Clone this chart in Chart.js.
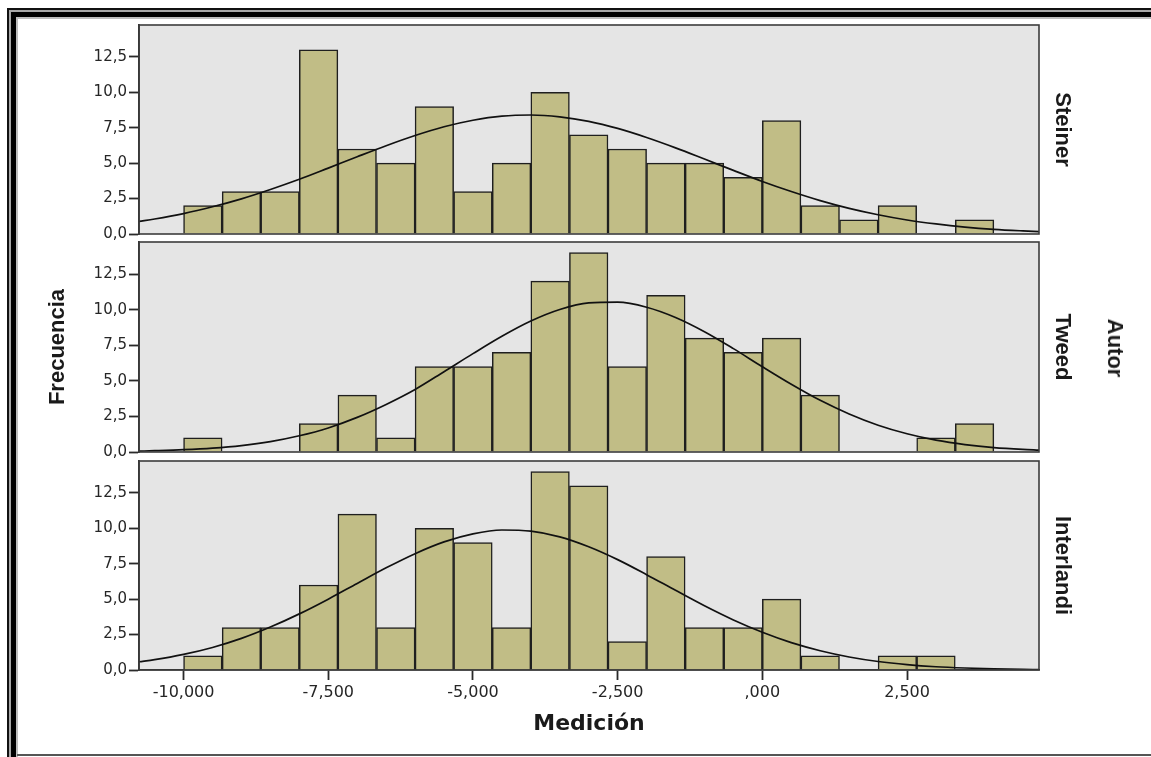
<!DOCTYPE html>
<html lang="es">
<head>
<meta charset="utf-8">
<title>Medición por autor</title>
<script src="https://cdn.jsdelivr.net/npm/chart.js@4.4.1/dist/chart.umd.min.js"></script>
<style>
  html, body { margin: 0; padding: 0; background: #fff; }
  #lienzo { position: relative; width: 1151px; height: 757px; overflow: hidden; background: #fff; }
  .marco { position: absolute; left: 0; top: 0; width: 100%; height: 100%; box-sizing: border-box; border-style: solid; border-right-width: 0; border-bottom-width: 0; }
  #m1 { left: 7px; top: 8px; width: 1200px; height: 800px; border-width: 2px; border-color: #111; }
  #m2 { border-width: 2px; border-color: #a8a8a8; }
  #m3 { border-width: 5px; border-color: #000; }
  #m4 { border-width: 2px; border-color: #bdbdbd; }
  #base { position: absolute; left: 17px; top: 754px; width: 1134px; height: 2px; background: #555; }
  canvas { position: absolute; left: 0; }
  #autor {
    position: absolute; left: 1115px; top: 348px;
    transform: translate(-50%, -50%) rotate(90deg);
    font: bold 22px "Liberation Sans", Arial, sans-serif; color: #1a1a1a; white-space: nowrap;
  }
</style>
</head>
<body>
<div id="lienzo">
  <div class="marco" id="m1"><div class="marco" id="m2"><div class="marco" id="m3"><div class="marco" id="m4"></div></div></div></div>
  <div id="base"></div>
  <canvas id="panel-steiner" width="1151" height="233" style="top:13px"></canvas>
  <canvas id="panel-tweed" width="1151" height="234" style="top:230px"></canvas>
  <canvas id="panel-interlandi" width="1151" height="296" style="top:449px"></canvas>
  <div id="autor">Autor</div>
</div>
<script>
// Intervalos del histograma (centro de cada barra, ancho 0,667)
const binCenters = [-9.667, -9.0, -8.333, -7.667, -7.0, -6.333, -5.667, -5.0, -4.333, -3.667, -3.0,
                    -2.333, -1.667, -1.0, -0.333, 0.333, 1.0, 1.667, 2.333, 3.0, 3.667];

// Frecuencias por autor
const steinerCounts    = [2, 3, 3, 13, 6, 5, 9, 3, 5, 10, 7, 6, 5, 5, 4, 8, 2, 1, 2, 0, 1];
const tweedCounts      = [1, 0, 0, 2, 4, 1, 6, 6, 7, 12, 14, 6, 11, 8, 7, 8, 4, 0, 0, 1, 2];
const interlandiCounts = [1, 3, 3, 6, 11, 3, 10, 9, 3, 14, 13, 2, 8, 3, 3, 5, 1, 0, 1, 1, 0];

// Curva normal
const curveX = [-10.77, -10.5, -10, -9.5, -9, -8.5, -8, -7.5, -7, -6.5, -6, -5.5, -5, -4.5, -4, -3.5, -3,
                -2.5, -2, -1.5, -1, -0.5, 0, 0.5, 1, 1.5, 2, 2.5, 3, 3.5, 4, 4.5, 4.78];
const steinerCurve    = [0.89, 1.06, 1.44, 1.92, 2.48, 3.14, 3.86, 4.65, 5.45, 6.23, 6.95, 7.57, 8.03, 8.32, 8.40, 8.27, 7.95,
                         7.45, 6.81, 6.08, 5.29, 4.49, 3.71, 3.00, 2.36, 1.81, 1.36, 0.99, 0.71, 0.49, 0.33, 0.22, 0.17];
const tweedCurve      = [0.06, 0.09, 0.16, 0.27, 0.45, 0.73, 1.14, 1.69, 2.43, 3.34, 4.39, 5.64, 6.91, 8.13, 9.20, 10.01, 10.47,
                         10.52, 10.17, 9.45, 8.45, 7.26, 5.99, 4.76, 3.63, 2.67, 1.88, 1.28, 0.83, 0.52, 0.31, 0.18, 0.13];
const interlandiCurve = [0.58, 0.73, 1.10, 1.59, 2.23, 3.03, 3.96, 5.00, 6.11, 7.21, 8.21, 9.04, 9.61, 9.88, 9.80, 9.40, 8.70,
                         7.79, 6.73, 5.62, 4.53, 3.53, 2.66, 1.93, 1.36, 0.92, 0.60, 0.38, 0.23, 0.14, 0.08, 0.04, 0.03];

// Marcas de los ejes
const xTickValues = [-10, -7.5, -5, -2.5, 0, 2.5];
const xTickLabels = ['-10,000', '-7,500', '-5,000', '-2,500', ',000', '2,500'];
const yTickValues = [0, 2.5, 5, 7.5, 10, 12.5];
const yTickLabels = ['0,0', '2,5', '5,0', '7,5', '10,0', '12,5'];

Chart.defaults.font.family = "'DejaVu Sans', sans-serif";

// Fondo gris y marco de cada panel
const fondoPanel = {
  id: 'fondoPanel',
  beforeDraw(chart) {
    const {ctx, chartArea: a} = chart;
    ctx.save();
    ctx.fillStyle = '#e5e5e5';
    ctx.fillRect(a.left, a.top, a.right - a.left, a.bottom - a.top);
    ctx.restore();
  },
  afterDraw(chart) {
    const {ctx, chartArea: a} = chart;
    ctx.save();
    ctx.strokeStyle = '#3c3c3c';
    ctx.lineWidth = 1.6;
    ctx.strokeRect(a.left, a.top, a.right - a.left, a.bottom - a.top);
    ctx.restore();
  }
};

function crearPanel(id, conteos, curva, autor, inferior, tituloY) {
  let ctx = document.getElementById(id).getContext('2d');
  return new Chart(ctx, {
    type: 'bar',
    data: {
      datasets: [{
        type: 'line',
        data: curveX.map((x, i) => ({x: x, y: curva[i]})),
        borderColor: '#111',
        borderWidth: 1.7,
        pointRadius: 0,
        cubicInterpolationMode: 'monotone',
        order: 0
      }, {
        type: 'bar',
        data: binCenters.map((x, i) => ({x: x, y: conteos[i]})),
        backgroundColor: '#c1bd86',
        borderColor: '#1f1f1f',
        borderWidth: 1.5,
        barPercentage: 1,
        categoryPercentage: 1,
        order: 1
      }]
    },
    options: {
      responsive: false,
      animation: false,
      layout: { padding: { top: 12, bottom: inferior ? 5 : 12, left: 0, right: 75.6 } },
      plugins: {
        legend: { display: false },
        tooltip: { enabled: false },
        title: {
          display: true,
          text: autor,
          position: 'right',
          fullSize: false,
          color: '#1a1a1a',
          font: { family: "'Liberation Sans', Arial, sans-serif", size: 22, weight: 'bold' },
          padding: { top: 0, bottom: 10 }
        }
      },
      scales: {
        x: {
          type: 'linear',
          min: -10.77,
          max: 4.78,
          offset: false,
          display: inferior,
          afterBuildTicks: s => { s.ticks = xTickValues.map(v => ({value: v})); },
          afterFit: s => { if (inferior) s.height = 70; },
          border: { color: '#2a2a2a', width: 1.6 },
          grid: { drawOnChartArea: false, offset: false, tickLength: 10, tickWidth: 1.8, tickColor: '#2a2a2a' },
          ticks: {
            autoSkip: false, maxRotation: 0, padding: 3, color: '#262626', font: { size: 16 },
            callback: (v, i) => xTickLabels[i]
          },
          title: {
            display: true, text: 'Medición', color: '#1a1a1a',
            font: { size: 22, weight: 'bold' }, padding: { top: 0, bottom: 3 }
          }
        },
        y: {
          min: 0,
          max: 14.75,
          afterBuildTicks: s => { s.ticks = yTickValues.map(v => ({value: v})); },
          afterFit: s => { s.width = 139; },
          border: { color: '#2a2a2a', width: 1.8 },
          grid: { drawOnChartArea: false, tickLength: 10, tickWidth: 1.8, tickColor: '#2a2a2a' },
          ticks: { padding: 2, color: '#262626', font: { size: 15 }, callback: (v, i) => yTickLabels[i] },
          title: {
            display: !!tituloY, text: tituloY || '', color: '#1a1a1a',
            font: { family: "'Liberation Sans', Arial, sans-serif", size: 22, weight: 'bold' },
            padding: { top: 45, bottom: 0 }
          }
        }
      }
    },
    plugins: [fondoPanel]
  });
}

crearPanel('panel-steiner', steinerCounts, steinerCurve, 'Steiner', false, null);
crearPanel('panel-tweed', tweedCounts, tweedCurve, 'Tweed', false, 'Frecuencia');
crearPanel('panel-interlandi', interlandiCounts, interlandiCurve, 'Interlandi', true, null);
</script>
</body>
</html>
